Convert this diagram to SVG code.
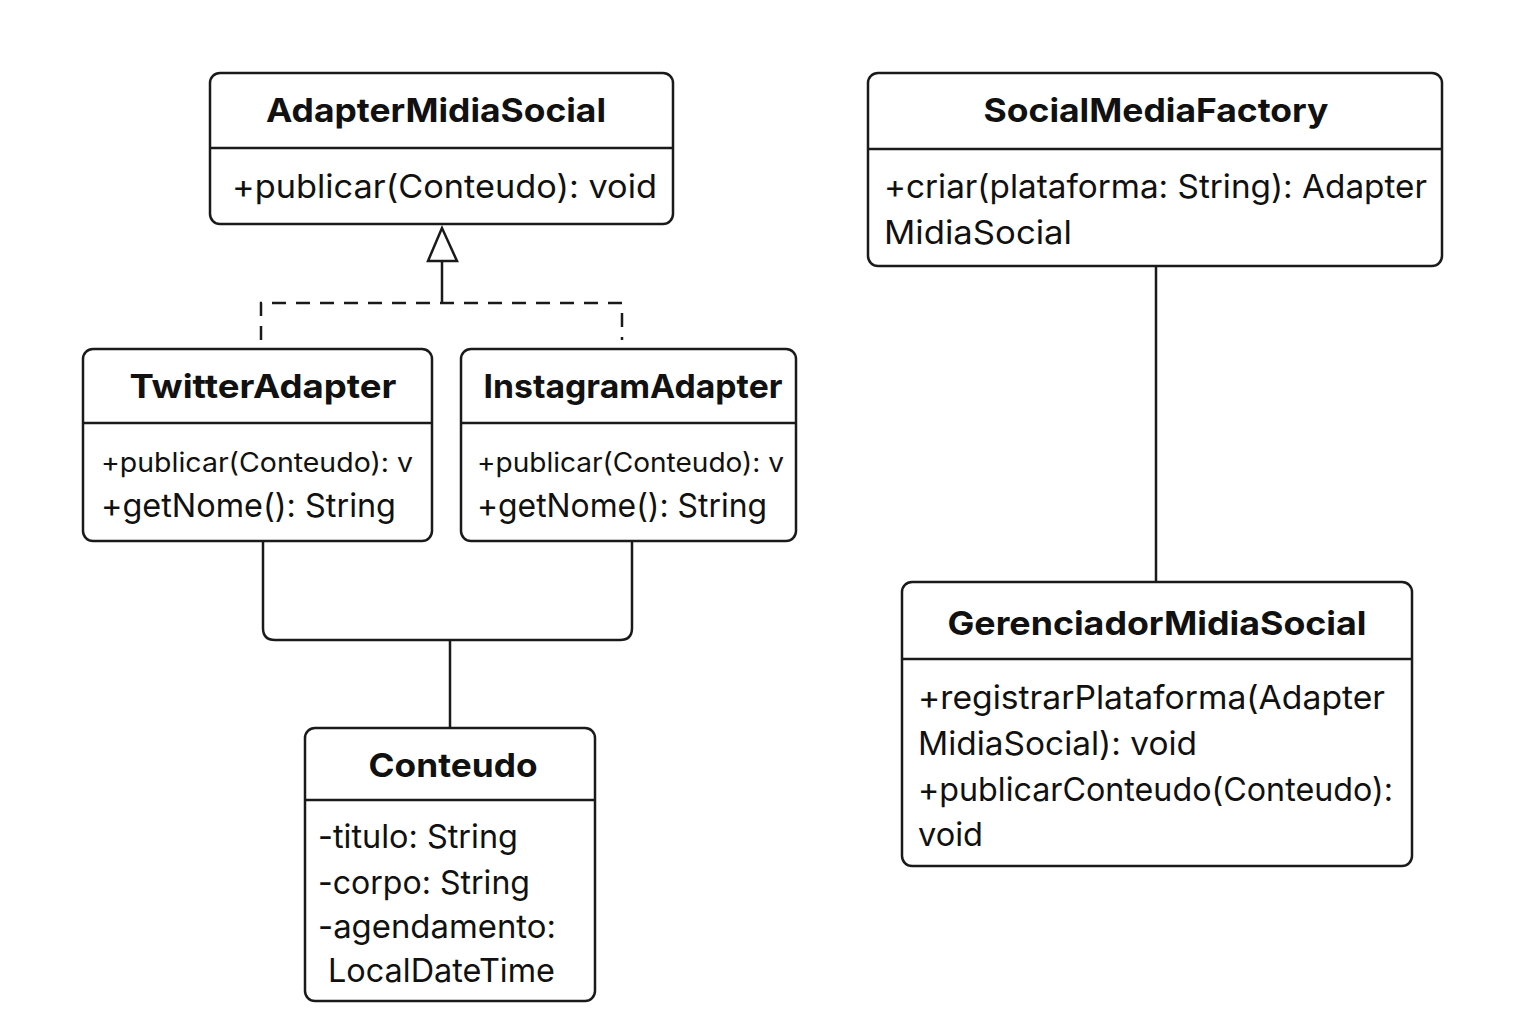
<svg xmlns="http://www.w3.org/2000/svg" width="1536" height="1024" viewBox="0 0 1536 1024">
<style>
.box{fill:#fff;stroke:#1a1a1a;stroke-width:2.5}
.div{stroke:#1a1a1a;stroke-width:2.5}
.t{font-family:Inter,"Liberation Sans",sans-serif;font-weight:700;font-size:33px;fill:#111;text-anchor:middle}
.m{font-family:Inter,"Liberation Sans",sans-serif;font-size:33px;fill:#111}
.s{font-family:Inter,"Liberation Sans",sans-serif;font-size:27px;fill:#111}
.c{fill:none;stroke:#1a1a1a;stroke-width:2.5}
</style>
<rect width="1536" height="1024" fill="#fff"/>
<g id="connectors">
<path class="c" d="M261,340 V303 H622 V340" stroke-dasharray="14,10"/>
<path class="c" d="M442,303 V261"/>
<polygon points="442,228 428,261 457,261" fill="#fff" stroke="#1a1a1a" stroke-width="2.5"/>
<path class="c" d="M263,541 V628 Q263,640 275,640 H620 Q632,640 632,628 V541"/>
<path class="c" d="M450,640 V728"/>
<path class="c" d="M1156,266 V582"/>
</g>
<g id="AdapterMidiaSocial">
<rect class="box" x="210" y="73" width="463" height="151" rx="10"/>
<line class="div" x1="210" y1="148" x2="673" y2="148"/>
<text class="t" x="436" y="122" textLength="340" lengthAdjust="spacingAndGlyphs">AdapterMidiaSocial</text>
<text class="m" x="232" y="198" textLength="425" lengthAdjust="spacingAndGlyphs">+publicar(Conteudo): void</text>
</g>
<g id="TwitterAdapter">
<rect class="box" x="83" y="349" width="349" height="192" rx="10"/>
<line class="div" x1="83" y1="423" x2="432" y2="423"/>
<text class="t" x="263" y="398" textLength="267" lengthAdjust="spacingAndGlyphs">TwitterAdapter</text>
<text class="s" x="101" y="472" textLength="312" lengthAdjust="spacingAndGlyphs">+publicar(Conteudo): v</text>
<text class="m" x="101" y="517" textLength="295" lengthAdjust="spacingAndGlyphs">+getNome(): String</text>
</g>
<g id="InstagramAdapter">
<rect class="box" x="461" y="349" width="335" height="192" rx="10"/>
<line class="div" x1="461" y1="423" x2="796" y2="423"/>
<text class="t" x="633" y="398" textLength="299" lengthAdjust="spacingAndGlyphs">InstagramAdapter</text>
<text class="s" x="477" y="472" textLength="307" lengthAdjust="spacingAndGlyphs">+publicar(Conteudo): v</text>
<text class="m" x="477" y="517" textLength="290" lengthAdjust="spacingAndGlyphs">+getNome(): String</text>
</g>
<g id="Conteudo">
<rect class="box" x="305" y="728" width="290" height="273" rx="10"/>
<line class="div" x1="305" y1="800" x2="595" y2="800"/>
<text class="t" x="453" y="777" textLength="169" lengthAdjust="spacingAndGlyphs">Conteudo</text>
<text class="m" x="318" y="848" textLength="200" lengthAdjust="spacingAndGlyphs">-titulo: String</text>
<text class="m" x="318" y="894" textLength="212" lengthAdjust="spacingAndGlyphs">-corpo: String</text>
<text class="m" x="318" y="938" textLength="238" lengthAdjust="spacingAndGlyphs">-agendamento:</text>
<text class="m" x="328" y="982" textLength="227" lengthAdjust="spacingAndGlyphs">LocalDateTime</text>
</g>
<g id="SocialMediaFactory">
<rect class="box" x="868" y="73" width="574" height="193" rx="10"/>
<line class="div" x1="868" y1="149" x2="1442" y2="149"/>
<text class="t" x="1156" y="122" textLength="345" lengthAdjust="spacingAndGlyphs">SocialMediaFactory</text>
<text class="m" x="884" y="198" textLength="543" lengthAdjust="spacingAndGlyphs">+criar(plataforma: String): Adapter</text>
<text class="m" x="884" y="244" textLength="188" lengthAdjust="spacingAndGlyphs">MidiaSocial</text>
</g>
<g id="GerenciadorMidiaSocial">
<rect class="box" x="902" y="582" width="510" height="284" rx="10"/>
<line class="div" x1="902" y1="659" x2="1412" y2="659"/>
<text class="t" x="1157" y="635" textLength="419" lengthAdjust="spacingAndGlyphs">GerenciadorMidiaSocial</text>
<text class="m" x="918" y="709" textLength="467" lengthAdjust="spacingAndGlyphs">+registrarPlataforma(Adapter</text>
<text class="m" x="918" y="755" textLength="279" lengthAdjust="spacingAndGlyphs">MidiaSocial): void</text>
<text class="m" x="918" y="801" textLength="475" lengthAdjust="spacingAndGlyphs">+publicarConteudo(Conteudo):</text>
<text class="m" x="918" y="846" textLength="65" lengthAdjust="spacingAndGlyphs">void</text>
</g>
</svg>
